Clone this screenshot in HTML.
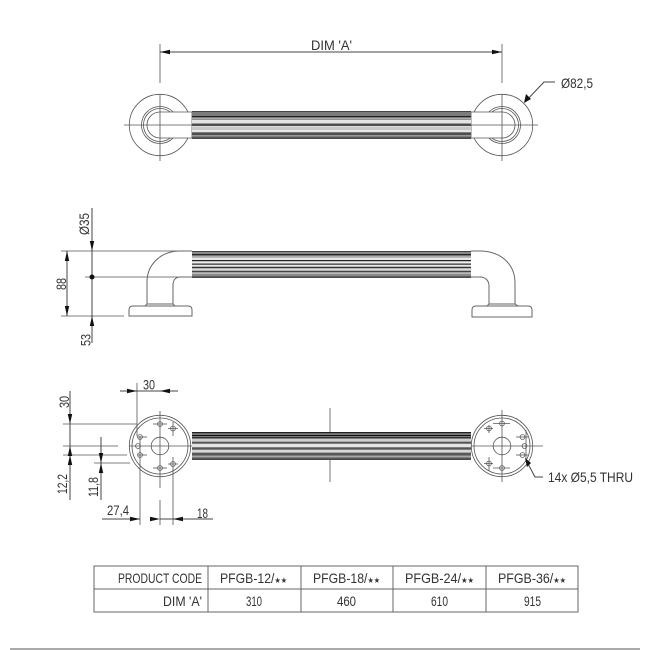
<!DOCTYPE html>
<html>
<head>
<meta charset="utf-8">
<style>
html,body{margin:0;padding:0;background:#fff}
svg{display:block}
text{font-family:"Liberation Sans","DejaVu Sans",sans-serif;font-size:14px;fill:#333}
.s{font-size:8px;font-family:"DejaVu Sans",sans-serif}
.l{stroke:#444;stroke-width:1;fill:none}
.t{stroke:#555;stroke-width:.8;fill:none}
.g{stroke:#666;stroke-width:1;fill:none}
.a{fill:#111;stroke:none}
</style>
</head>
<body>
<svg width="650" height="650" viewBox="0 0 650 650" xmlns="http://www.w3.org/2000/svg">
<rect width="650" height="650" fill="#fff"/>

<!-- TOP VIEW -->
<g class="t">
<path d="M160 44V83M502 44V83"/>
<circle cx="160" cy="125" r="30.7"/>
<circle cx="160" cy="125" r="18.5"/>
<circle cx="160" cy="125" r="16.5"/>
<circle cx="160" cy="125" r="13"/>
<circle cx="502" cy="125" r="30.7"/>
<circle cx="502" cy="125" r="18.5"/>
<circle cx="502" cy="125" r="16.5"/>
<circle cx="502" cy="125" r="13"/>
</g>
<rect x="160" y="112" width="32" height="26" fill="#fff"/>
<rect x="471" y="112" width="31" height="26" fill="#fff"/>
<path class="t" d="M160 112H192M160 138H192M471 112H502M471 138H502M192 112V138M471 112V138M124 125H192M471 125H538M160 94V161M502 94V161"/>
<g>
<rect x="192" y="111" width="279" height="28" fill="#7c7c7c"/>
<rect x="192" y="111" width="279" height="1" fill="#444"/>
<rect x="192" y="116" width="279" height="1" fill="#222"/>
<rect x="192" y="118" width="279" height="1.5" fill="#aaa"/>
<rect x="192" y="120" width="279" height="3" fill="#e4e4e4"/>
<rect x="192" y="123" width="279" height="1" fill="#999"/>
<rect x="192" y="124.5" width="279" height="1" fill="#222"/>
<rect x="192" y="126" width="279" height="1" fill="#ddd"/>
<rect x="192" y="127" width="279" height="3" fill="#c8c8c8"/>
<rect x="192" y="130" width="279" height="2" fill="#e8e8e8"/>
<rect x="192" y="133.5" width="279" height="1" fill="#222"/>
<rect x="192" y="135" width="279" height="1" fill="#999"/>
<rect x="192" y="137.5" width="279" height="1.2" fill="#333"/>
</g>
<path class="l" d="M160 52H502"/>
<path class="a" d="M160 52l10-2.2v4.4zM502 52l-10-2.2v4.4z"/>
<text x="311" y="50" textLength="41" lengthAdjust="spacingAndGlyphs">DIM 'A'</text>
<path class="l" d="M525 102L544 82H555"/>
<path class="a" d="M524 103l2-9 5 5z"/>
<text x="561" y="88" textLength="32" lengthAdjust="spacingAndGlyphs">Ø82,5</text>

<!-- SIDE VIEW -->
<path class="t" d="M61 251H178M85 277H178M61 316H124"/>
<path class="l" d="M92 208V343M67 251V316"/>
<circle cx="92" cy="277" r="2.5" fill="#111"/>
<path class="a" d="M92 251l-2.2-10h4.4zM92 316l-2.2 10h4.4zM67 251l-2.2 10h4.4zM67 316l-2.2-10h4.4z"/>
<text transform="translate(89,235) rotate(-90)" textLength="22" lengthAdjust="spacingAndGlyphs">Ø35</text>
<text transform="translate(66,290) rotate(-90)" textLength="12" lengthAdjust="spacingAndGlyphs">88</text>
<text transform="translate(90.500,346) rotate(-90)" textLength="12" lengthAdjust="spacingAndGlyphs">53</text>

<path class="g" d="M178 251C160 252 147 265 147 282V304M192 251H178M192 277H180C175 277 173 281 173 285V304M145 306L147 304H173L175 306"/>
<path class="g" d="M129 316V310Q129 306 133 306H188Q192 306 192 310V316H129Z"/>
<path class="g" d="M471 251H482C501 252 515 264 515 283V304M471 277H480C486 277 489 281 489 286V304M487 306L489 304H515L518 306"/>
<path class="g" d="M472 317V310Q472 306 476 306H528Q532 306 532 310V317H472Z"/>
<g>
<rect x="192" y="251" width="279" height="27" fill="#8a8a8a"/>
<rect x="192" y="251" width="279" height="1" fill="#444"/>
<rect x="192" y="254" width="279" height="1.2" fill="#222"/>
<rect x="192" y="256" width="279" height="1" fill="#aaa"/>
<rect x="192" y="257.5" width="279" height="2.5" fill="#e8e8e8"/>
<rect x="192" y="260" width="279" height="1" fill="#222"/>
<rect x="192" y="261.5" width="279" height="2" fill="#eee"/>
<rect x="192" y="263.5" width="279" height="1" fill="#333"/>
<rect x="192" y="265" width="279" height="1.5" fill="#e8e8e8"/>
<rect x="192" y="267" width="279" height="1" fill="#333"/>
<rect x="192" y="268.5" width="279" height="2" fill="#ddd"/>
<rect x="192" y="271" width="279" height="1" fill="#444"/>
<rect x="192" y="272.5" width="279" height="1.5" fill="#bbb"/>
<rect x="192" y="276.5" width="279" height="1.2" fill="#333"/>
</g>

<!-- BOTTOM VIEW -->
<path class="t" d="M330 408V482"/>
<g class="t">
<circle cx="160" cy="446" r="30.7"/>
<circle cx="160" cy="446" r="28"/>
<circle cx="160" cy="446" r="8.800"/>
<path d="M129 446H192M160 411V488M160 500V525"/>
<circle cx="160" cy="424" r="2.4"/><path d="M153 424H167"/>
<circle cx="173" cy="428.5" r="2.4"/><path d="M173 422V436M168 428.5H178"/>
<circle cx="140" cy="437" r="2.4"/><path d="M138 437H147"/>
<circle cx="138" cy="446" r="2.4"/>
<circle cx="140" cy="455" r="2.4"/><path d="M138 455H147"/>
<circle cx="173" cy="464" r="2.4"/><path d="M173 457V525M168 464H178"/>
<circle cx="160" cy="468" r="2.4"/><path d="M153 468H167"/>

<circle cx="502" cy="446" r="30.7"/>
<circle cx="502" cy="446" r="28"/>
<circle cx="502" cy="446" r="8.800"/>
<path d="M471 446H543M502 410V482"/>
<circle cx="502" cy="423.500" r="2.4"/><path d="M493 423.500H510"/>
<circle cx="489" cy="428.500" r="2.4"/><path d="M489 425V433M484 428.500H493"/>
<circle cx="522.500" cy="437" r="2.4"/><path d="M516 437H528"/>
<circle cx="524.500" cy="446" r="2.4"/>
<circle cx="522.500" cy="455" r="2.4"/><path d="M516 455H528"/>
<circle cx="489" cy="463.500" r="2.4"/><path d="M489 457V471M484 463.500H493"/>
<circle cx="502" cy="468" r="2.4"/><path d="M493 468H510"/>
<path d="M526 430V460"/>
</g>
<g>
<rect x="192" y="432" width="279" height="28" fill="#7c7c7c"/>
<rect x="192" y="432" width="279" height="1.2" fill="#222"/>
<rect x="192" y="435" width="279" height="1" fill="#111"/>
<rect x="192" y="437" width="279" height="1" fill="#333"/>
<rect x="192" y="439" width="279" height="2.5" fill="#cfcfcf"/>
<rect x="192" y="442" width="279" height="1" fill="#555"/>
<rect x="192" y="444" width="279" height="3" fill="#e4e4e4"/>
<rect x="192" y="448" width="279" height="1" fill="#555"/>
<rect x="192" y="450" width="279" height="2.500" fill="#d8d8d8"/>
<rect x="192" y="453.500" width="279" height="1" fill="#333"/>
<rect x="192" y="456" width="279" height="1" fill="#aaa"/>
<rect x="192" y="458.500" width="279" height="1.2" fill="#333"/>
</g>

<path class="t" d="M137 383V436M63 424H137M63 446H118M63 455H127M94 463H130M140 436V525"/>
<path class="l" d="M120 391H178M70 391V500M101 437V500M102 519H140M160 519H173M173 519H213"/>
<path class="a" d="M137 391l-10-2.2v4.4zM160 391l10-2.2v4.4zM70 424l-2.2-10h4.4zM70 446l-2.2 10h4.4zM70 455l-2.200 10h4.400zM101 463l-2.200-10h4.400zM101 463l-2.200 10h4.400zM140 519l-10-2.200v4.400zM160 519l-10-2.200v4.400zM173 519l10-2.200v4.400z"/>
<text x="143" y="389.500" textLength="12" lengthAdjust="spacingAndGlyphs">30</text>
<text transform="translate(69,408) rotate(-90)" textLength="12" lengthAdjust="spacingAndGlyphs">30</text>
<text transform="translate(67,494) rotate(-90)" textLength="20" lengthAdjust="spacingAndGlyphs">12,2</text>
<text transform="translate(98,497) rotate(-90)" textLength="20" lengthAdjust="spacingAndGlyphs">11,8</text>
<text x="107" y="515" textLength="22" lengthAdjust="spacingAndGlyphs">27,4</text>
<text x="197" y="518" textLength="11" lengthAdjust="spacingAndGlyphs">18</text>
<path class="l" d="M526 460L535 477H543"/>
<path class="a" d="M525 458l6 5-4 4z"/>
<text x="548" y="482" textLength="85" lengthAdjust="spacingAndGlyphs">14x  Ø5,5 THRU</text>

<!-- TABLE -->
<path class="g" d="M94 566H578V612H94ZM94 589H578M208 566V612M301 566V612M393 566V612M486 566V612"/>
<text x="118" y="583" textLength="84" lengthAdjust="spacingAndGlyphs">PRODUCT CODE</text>
<text x="163" y="606" textLength="39" lengthAdjust="spacingAndGlyphs">DIM 'A'</text>
<text x="220" y="583" textLength="67" lengthAdjust="spacingAndGlyphs">PFGB-12/<tspan class="s">★★</tspan></text>
<text x="313" y="583" textLength="67" lengthAdjust="spacingAndGlyphs">PFGB-18/<tspan class="s">★★</tspan></text>
<text x="405" y="583" textLength="69" lengthAdjust="spacingAndGlyphs">PFGB-24/<tspan class="s">★★</tspan></text>
<text x="498" y="583" textLength="68" lengthAdjust="spacingAndGlyphs">PFGB-36/<tspan class="s">★★</tspan></text>
<text x="246" y="606" textLength="16" lengthAdjust="spacingAndGlyphs">310</text>
<text x="337" y="606" textLength="19" lengthAdjust="spacingAndGlyphs">460</text>
<text x="431" y="606" textLength="17" lengthAdjust="spacingAndGlyphs">610</text>
<text x="524" y="606" textLength="17" lengthAdjust="spacingAndGlyphs">915</text>

<path d="M10 649H640" stroke="#555" stroke-width="1" fill="none"/>
</svg>
</body>
</html>
